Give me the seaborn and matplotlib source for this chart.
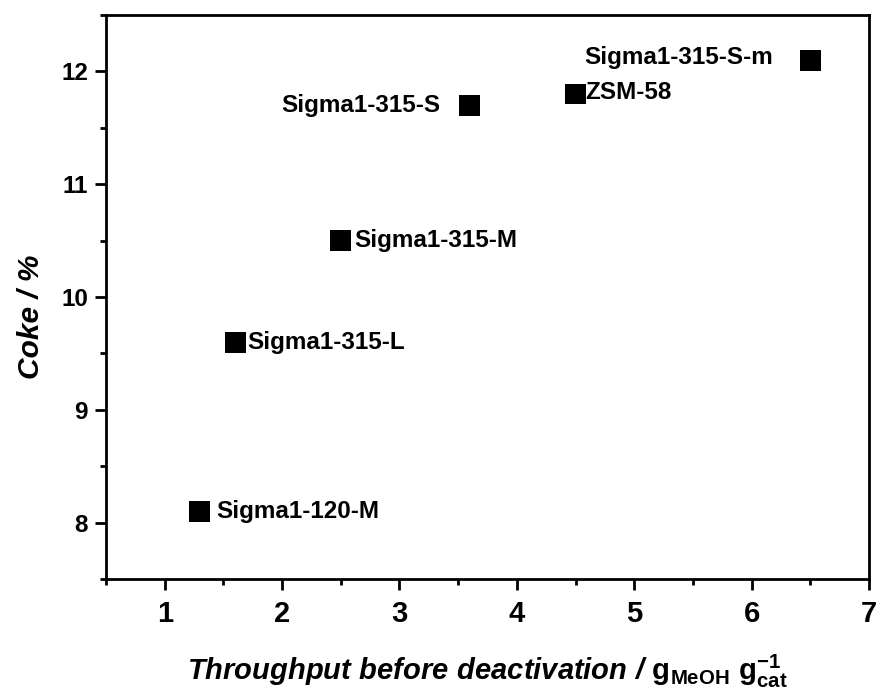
import matplotlib
matplotlib.use("Agg")
import matplotlib.pyplot as plt
import seaborn as sns
import pandas as pd
from matplotlib.ticker import MultipleLocator

# datos
samples = ['Sigma1-120-M', 'Sigma1-315-L', 'Sigma1-315-M', 'Sigma1-315-S', 'ZSM-58', 'Sigma1-315-S-m']
throughput = [1.3, 1.6, 2.5, 3.6, 4.5, 6.5]
coke = [8.1, 9.6, 10.5, 11.7, 11.8, 12.1]

df = pd.DataFrame({'sample': samples, 'throughput': throughput, 'coke': coke})

sns.set_style("ticks")
plt.rcParams['font.family'] = ['Liberation Sans', 'DejaVu Sans']
plt.rcParams['font.weight'] = 'bold'
plt.rcParams['text.color'] = 'black'
plt.rcParams['axes.labelcolor'] = 'black'
plt.rcParams['xtick.color'] = 'black'
plt.rcParams['ytick.color'] = 'black'
plt.rcParams['mathtext.fontset'] = 'custom'
plt.rcParams['mathtext.rm'] = 'Liberation Sans'
plt.rcParams['mathtext.bf'] = 'Liberation Sans:bold'
plt.rcParams['mathtext.it'] = 'Liberation Sans:italic'
plt.rcParams['mathtext.bfit'] = 'Liberation Sans:italic:bold'

fig = plt.figure(figsize=(8.8, 6.96), dpi=100)
ax = fig.add_axes([106 / 880, 1 - 579 / 696, (869 - 106) / 880, (579 - 15) / 696])

sns.scatterplot(data=df, x='throughput', y='coke', marker='s', s=225,
                color='black', edgecolor='none', ax=ax, legend=False, zorder=3)

# posicion de las etiquetas (en puntos, relativo al marcador)
label_offsets = {
    'Sigma1-120-M': (12, 0, 'left'),
    'Sigma1-315-L': (9, 0, 'left'),
    'Sigma1-315-M': (10, 0, 'left'),
    'Sigma1-315-S': (-21, 0, 'right'),
    'ZSM-58': (7, 1, 'left'),
    'Sigma1-315-S-m': (-27, 2, 'right'),
}
for _, row in df.iterrows():
    dx, dy, ha = label_offsets[row['sample']]
    ax.annotate(row['sample'], (row['throughput'], row['coke']),
                xytext=(dx, dy), textcoords='offset points',
                ha=ha, va='center', fontsize=17.5, fontweight='bold', color='black')

ax.set_xlim(0.5, 7)
ax.set_ylim(7.5, 12.5)
ax.xaxis.set_major_locator(MultipleLocator(1))
ax.xaxis.set_minor_locator(MultipleLocator(0.5))
ax.yaxis.set_major_locator(MultipleLocator(1))
ax.yaxis.set_minor_locator(MultipleLocator(0.5))

for side in ['top', 'right', 'bottom', 'left']:
    ax.spines[side].set_linewidth(2)
    ax.spines[side].set_color('black')

ax.tick_params(axis='both', which='major', direction='out', length=8, width=2, color='black')
ax.tick_params(axis='both', which='minor', direction='out', length=4.5, width=2, color='black')
ax.tick_params(axis='x', labelsize=21, pad=7)
ax.tick_params(axis='y', labelsize=17.5, pad=5)
for lab in ax.get_xticklabels() + ax.get_yticklabels():
    lab.set_fontweight('bold')

ax.set_xlabel(r'$\mathbfit{Throughput\ before\ deactivation\ /}\ \mathbf{g}_{\mathbf{MeOH}}\ \mathbf{g}_{\mathbf{cat}}^{\mathbf{-1}}$',
              fontsize=21)
ax.xaxis.set_label_coords(0.5, -0.13)
ax.set_ylabel('Coke / %', fontsize=21.5, fontweight='bold', fontstyle='italic')
ax.yaxis.set_label_coords(-0.08, 0.465)

fig.savefig('out.png', dpi=100)
plt.close()
